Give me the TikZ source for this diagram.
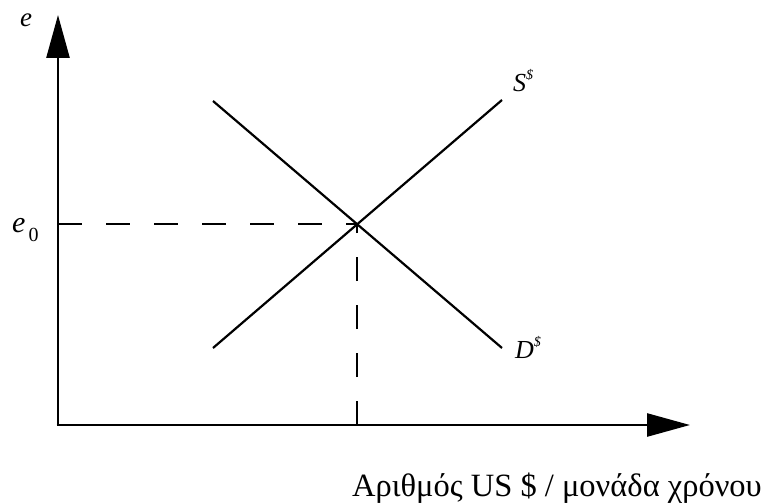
\documentclass[tikz,border=0pt]{standalone}
\usepackage{fontspec}
\setmainfont{Liberation Serif}
\usetikzlibrary{arrows.meta}
\begin{document}
\begin{tikzpicture}[x=1pt,y=-1pt,
  axis/.style={line width=2.6pt,-{Triangle[length=43pt,width=23pt]}},
  curve/.style={line width=2.2pt},
  guide/.style={line width=2.2pt,dash pattern=on 24pt off 24pt},
  lbl/.style={inner sep=0pt,anchor=base west}]
\useasboundingbox (0,0) rectangle (779,503);
\coordinate (O) at (58,425);
\coordinate (Ytip) at (58,15);
\coordinate (Xtip) at (690,425);
\coordinate (S1) at (213,348);
\coordinate (S2) at (502,100);
\coordinate (D1) at (213,101);
\coordinate (D2) at (502,348);
\coordinate (E) at (357,224);
\coordinate (Ey) at (58,224);
\coordinate (Ex) at (357,425);
\draw[axis] ([yshift=1.3pt]O) -- (Ytip);
\draw[axis] ([xshift=-1.3pt]O) -- (Xtip);
\draw[curve] (S1) -- (S2);
\draw[curve] (D1) -- (D2);
\draw[guide] (Ey) -- (E);
\draw[guide] (Ex) -- (E);
\node[lbl] (le) at (20,27) {\fontsize{27}{30}\selectfont\textit{e}};
\node[lbl] (le0) at (12,232) {\fontsize{30}{34}\selectfont\textit{e}\kern3pt\raisebox{-9pt}{\fontsize{20}{24}\selectfont 0}};
\node[lbl] (lS) at (513,92) {\fontsize{26}{30}\selectfont\textit{S}\raisebox{12pt}{\fontsize{14}{16}\selectfont\textit{\$}}};
\node[lbl] (lD) at (515,358) {\fontsize{26}{30}\selectfont\textit{D}\raisebox{12pt}{\fontsize{14}{16}\selectfont\textit{\$}}};
\node[lbl] (lx) at (352,496) {\fontsize{32.5}{36}\selectfont Αριθμός US \$ / μονάδα χρόνου};
\end{tikzpicture}
\end{document}
